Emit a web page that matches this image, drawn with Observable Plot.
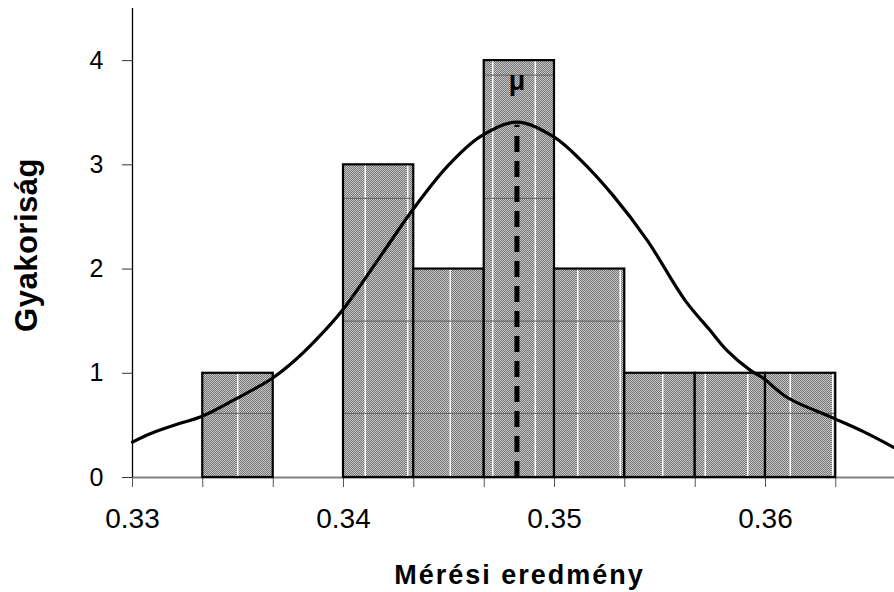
<!DOCTYPE html>
<html><head><meta charset="utf-8">
<script src="https://cdn.jsdelivr.net/npm/d3@7"></script>
<script src="https://cdn.jsdelivr.net/npm/@observablehq/plot@0.6"></script>
<style>body{margin:0;background:#fff} svg{display:block}</style>
</head><body><div id="chart"></div>
<script>
// Histogram bins
const binStart = [0.33333, 0.34, 0.34333, 0.34667, 0.35, 0.35333, 0.35667, 0.36];
const binEnd   = [0.33667, 0.34333, 0.34667, 0.35, 0.35333, 0.35667, 0.36, 0.36333];
const counts   = [1, 3, 2, 4, 2, 1, 1, 1];

// Fitted curve
const curveX = [0.33, 0.33084, 0.33226, 0.33321, 0.33477, 0.33661, 0.33762, 0.33874, 0.33993,
  0.34174, 0.34325, 0.34490, 0.34648, 0.34822, 0.34995, 0.35122, 0.35280, 0.35438, 0.35619,
  0.35738, 0.35817, 0.35927, 0.35991, 0.36101, 0.36322, 0.36464, 0.36607];
const curveY = [0.34, 0.42, 0.52, 0.58, 0.74, 0.95, 1.11, 1.33, 1.60,
  2.12, 2.56, 2.98, 3.27, 3.41, 3.27, 3.05, 2.70, 2.28, 1.70,
  1.41, 1.22, 1.03, 0.95, 0.77, 0.57, 0.44, 0.29];

// Mean marker
const meanX = 0.34822;
const meanTop = 3.38;
const meanLabel = "μ";
const meanLabelY = 3.8;

// Axes
const xTickEdges = [0.33, 0.33333, 0.33667, 0.34, 0.34333, 0.34667, 0.35, 0.35333, 0.35667, 0.36, 0.36333];
const xLabelValues = [0.33, 0.34, 0.35, 0.36];
const xLabelTexts = ["0.33", "0.34", "0.35", "0.36"];
const yTicks = [0, 1, 2, 3, 4];
const yTickTexts = ["0", "1", "2", "3", "4"];
const xTitle = "Mérési eredmény";
const yTitle = "Gyakoriság";

const bars = binStart.map((s, i) => ({x1: s, x2: binEnd[i], y: counts[i]}));
const curve = curveX.map((x, i) => ({x, y: curveY[i]}));
const labelOf = v => { const i = xLabelValues.findIndex(t => Math.abs(t - v) < 1e-6); return i >= 0 ? xLabelTexts[i] : ""; };
const yLabelOf = v => yTickTexts[yTicks.indexOf(v)];

const chart = Plot.plot({
  width: 894, height: 592,
  marginLeft: 132, marginRight: 0, marginTop: 8, marginBottom: 115,
  style: {fontFamily: "'Liberation Sans', Arial, sans-serif", background: "#fff"},
  x: {type: "linear", domain: [0.33, 0.366114], label: null},
  y: {domain: [0, 4.5], label: null},
  marks: [
    Plot.ruleY([0], {stroke: "#808080", strokeWidth: 2}),
    Plot.ruleX([0.33], {stroke: "#000", strokeWidth: 1.3}),
    Plot.axisY(yTicks, {tickSize: 10, tickPadding: 19, fontSize: 25, stroke: "#333", tickFormat: yLabelOf, label: null}),
    Plot.axisX(xTickEdges, {tickSize: 10, tickFormat: () => "", stroke: "#555", label: null}),
    Plot.axisX(xLabelValues, {tickSize: 0, tickPadding: 31, fontSize: 28, tickFormat: labelOf, label: null}),
    Plot.rectY(bars, {x1: "x1", x2: "x2", y: "y", fill: "url(#barfill)", stroke: "#000", strokeWidth: 2.2}),
    Plot.ruleX([meanX], {y1: 0, y2: meanTop, stroke: "#000", strokeWidth: 5, strokeDasharray: "16,9"}),
    Plot.line(curve, {x: "x", y: "y", curve: "catmull-rom", stroke: "#000", strokeWidth: 3.2}),
    Plot.text([meanLabel], {x: meanX, y: meanLabelY, text: d => d, fontSize: 27, fontWeight: "bold", lineAnchor: "middle"}),
    Plot.text([xTitle], {frameAnchor: "bottom", text: d => d, dy: 98, dx: 6, fontSize: 27, fontWeight: "bold", lineAnchor: "middle", textAnchor: "middle"}),
    Plot.text([yTitle], {frameAnchor: "left", text: d => d, dx: -105, dy: 2, rotate: -90, fontSize: 31, fontWeight: "bold", lineAnchor: "middle", textAnchor: "middle"})
  ]
});

// letter spacing of the axis titles
chart.querySelectorAll("text").forEach(t => {
  if (t.textContent === xTitle) t.setAttribute("letter-spacing", "2");
  if (t.textContent === yTitle) t.setAttribute("letter-spacing", "0.5");
});

const defs = document.createElementNS("http://www.w3.org/2000/svg", "defs");
defs.innerHTML = `
<pattern id="checker" x="0" y="0" width="2" height="2" patternUnits="userSpaceOnUse">
  <rect width="2" height="2" fill="#c4c4c4"/>
  <rect x="0" y="0" width="1" height="1" fill="#787878"/>
  <rect x="1" y="1" width="1" height="1" fill="#787878"/>
</pattern>
<pattern id="barfill" x="66" y="0" width="85" height="592" patternUnits="userSpaceOnUse">
  <rect width="85" height="592" fill="url(#checker)"/>
  <rect x="1" y="0" width="1.5" height="592" fill="#ffffff"/>
  <rect x="43.5" y="0" width="1.5" height="592" fill="#ffffff"/>
  <rect x="0" y="74.5" width="85" height="1.2" fill="#6a6a6a"/>
  <rect x="0" y="197.8" width="85" height="1.2" fill="#6a6a6a"/>
  <rect x="0" y="320.5" width="85" height="1.2" fill="#6a6a6a"/>
  <rect x="0" y="412.8" width="85" height="1.2" fill="#6a6a6a"/>
</pattern>`;
chart.insertBefore(defs, chart.firstChild);
document.getElementById("chart").appendChild(chart);
</script>
</body></html>
